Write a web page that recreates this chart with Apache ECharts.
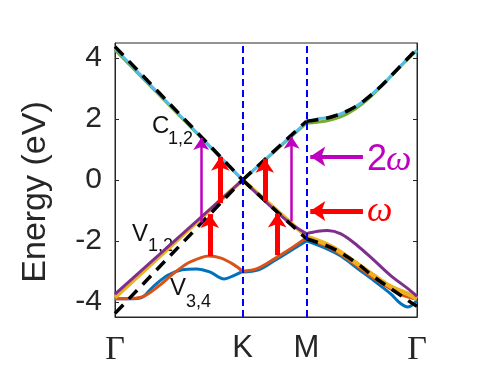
<!DOCTYPE html>
<html>
<head>
<meta charset="utf-8">
<script src="https://cdn.jsdelivr.net/npm/echarts@6/dist/echarts.min.js"></script>
<style>
  html, body { margin: 0; padding: 0; background: #fff; }
  #chart { width: 500px; height: 376px; }
</style>
</head>
<body>
<div id="chart"></div>
<script>
// high-symmetry points along the k-path (units of pi/a)
var kTicks = [0, 4 / 3, 2, 2 + 1.1547];
var kTickLabels = ['Γ', 'K', 'M', 'Γ'];
var energyTicks = [-4, -2, 0, 2, 4];

// bands, split per path segment: Γ-K, K-M, M-Γ  ([k, E in eV])
var c1GK = [[0, 4.32], [4 / 3, 0]];
var c1KM = [[4 / 3, 0], [2, 1.9]];
var c1MG = [[2, 1.9], [2.11, 2.0], [2.25, 2.06], [2.43, 2.27], [2.6, 2.6], [2.78, 3.09], [2.95, 3.64], [3.09, 4.08], [3.1547, 4.26]];
var c2GK = [[0, 4.27], [4 / 3, 0]];
var c2KM = [[4 / 3, 0], [2, 1.87]];
var c2MG = [[2, 1.86], [2.11, 1.9], [2.25, 1.97], [2.43, 2.18], [2.6, 2.54], [2.78, 3.07], [2.95, 3.63], [3.09, 4.07], [3.1547, 4.25]];

var v1GK = [[0, -3.75], [4 / 3, 0]];
var v1KM = [[4 / 3, 0], [1.8, -1.35], [2, -1.76]];
var v1MG = [[2, -1.76], [2.12, -1.68], [2.22, -1.66], [2.36, -1.77], [2.53, -2.15], [2.71, -2.65], [2.88, -3.14], [3.06, -3.57], [3.1547, -3.82]];
var v2GK = [[0, -3.86], [4 / 3, 0]];
var v2KM = [[4 / 3, 0], [2, -1.86]];
var v2MG = [[2, -1.86], [2.22, -2.12], [2.36, -2.38], [2.53, -2.75], [2.71, -3.15], [2.88, -3.5], [3.06, -3.74], [3.1547, -3.9]];
var v3GK = [[0, -3.9], [0.15, -3.89], [0.3, -3.82], [0.45, -3.5], [0.6, -3.1], [0.75, -2.75], [0.9, -2.55], [0.98, -2.5], [1.1, -2.56], [1.24, -2.78], [4 / 3, -3.0]];
var v3KM = [[4 / 3, -3.0], [1.49, -2.9], [1.66, -2.6], [1.83, -2.27], [2, -1.9]];
var v3MG = [[2, -1.9], [2.22, -2.2], [2.36, -2.45], [2.53, -2.83], [2.71, -3.24], [2.88, -3.58], [3.0, -3.78], [3.1547, -3.92]];
var v4GK = [[0, -3.9], [0.15, -3.9], [0.27, -3.87], [0.4, -3.5], [0.55, -3.13], [0.7, -2.95], [0.85, -2.92], [0.99, -3.02], [1.14, -3.25], [1.24, -3.14], [4 / 3, -3.0]];
var v4KM = [[4 / 3, -3.02], [1.5, -2.95], [1.66, -2.66], [1.83, -2.33], [2, -2.0]];
var v4MG = [[2, -2.0], [2.22, -2.27], [2.36, -2.5], [2.53, -2.9], [2.71, -3.32], [2.88, -3.74], [2.98, -4.05], [3.06, -4.17], [3.1547, -3.96]];

// simple model (black dashed)
var dashCGK = [[0, 4.38], [4 / 3, 0]];
var dashCKM = [[4 / 3, 0], [2, 1.93]];
var dashCMG = [[2, 1.93], [2.11, 1.98], [2.25, 2.06], [2.43, 2.27], [2.6, 2.6], [2.78, 3.09], [2.95, 3.64], [3.09, 4.1], [3.1547, 4.3]];
var dashVGK = [[0, -4.38], [4 / 3, 0]];
var dashVKM = [[4 / 3, 0], [2, -1.93]];
var dashVMG = [[2, -1.93], [2.285, -2.26], [2.533, -2.75], [2.704, -3.18], [2.952, -3.72], [3.057, -3.95], [3.1547, -4.15]];

// optical transitions: [k, E from, E to]
var arrows2w = [[0.9, -1.4, 1.38], [1.845, -1.36, 1.42]];
var arrowsW = [[0.99, -2.5, -1.12], [1.1, -0.76, 0.76], [1.565, -0.7, 0.7], [1.694, -2.47, -1.1]];
// legend arrows: [k tail, k head, E]
var key2w = [2.59, 2.04, 0.77];
var keyW = [2.59, 2.04, -1.02];

var cBlue = '#4DBEEE', cGreen = '#77AC30', cPurple = '#7E2F8E',
    cYellow = '#EDB120', cOrange = '#D95319', cDark = '#0072BD',
    cMag = '#C000C0', cRed = '#FF0000';

function band(data, color, width, dashed) {
    return {
        type: 'line',
        data: data,
        symbol: 'none',
        smooth: data.length > 2 ? 0.35 : false,
        lineStyle: {color: color, width: width, type: dashed ? [12, 8] : 'solid'},
        silent: true
    };
}

function arrow(x0, y0, x1, y1, color, width, size) {
    return [
        {coord: [x0, y0]},
        {coord: [x1, y1], lineStyle: {color: color, width: width, type: 'solid'}, symbolSize: size}
    ];
}

var arrowData = [];
arrows2w.forEach(function (a) { arrowData.push(arrow(a[0], a[1], a[0], a[2], cMag, 2.5, 12)); });
arrowsW.forEach(function (a) { arrowData.push(arrow(a[0], a[1], a[0], a[2], cRed, 5, 14)); });
arrowData.push(arrow(key2w[0], key2w[2], key2w[1], key2w[2], cMag, 4, 15));
arrowData.push(arrow(keyW[0], keyW[2], keyW[1], keyW[2], cRed, 5, 15));

var chart = echarts.init(document.getElementById('chart'));

var series = [
    band(v4GK, cDark, 3), band(v4KM, cDark, 3), band(v4MG, cDark, 3),
    band(v3GK, cOrange, 3), band(v3KM, cOrange, 3), band(v3MG, cOrange, 3),
    band(v2GK, cYellow, 4), band(v2KM, cYellow, 4), band(v2MG, cYellow, 4.5),
    band(v1GK, cPurple, 3), band(v1KM, cPurple, 3), band(v1MG, cPurple, 3),
    band(c2GK, cGreen, 3), band(c2KM, cGreen, 3), band(c2MG, cGreen, 3),
    band(c1GK, cBlue, 3), band(c1KM, cBlue, 3), band(c1MG, cBlue, 3),
    band(dashCGK, '#000', 3.5, true), band(dashCKM, '#000', 3.5, true), band(dashCMG, '#000', 3.5, true),
    band(dashVGK, '#000', 3.5, true), band(dashVKM, '#000', 3.5, true), band(dashVMG, '#000', 3.5, true),
    {
        type: 'line',
        data: [],
        markLine: {
            silent: true,
            symbol: 'none',
            label: {show: false},
            lineStyle: {color: '#0000FF', width: 2, type: [7, 4]},
            data: [{xAxis: kTicks[1]}, {xAxis: kTicks[2]}]
        }
    },
    {
        type: 'line',
        data: [],
        markLine: {
            silent: true,
            symbol: ['none', 'arrow'],
            label: {show: false},
            lineStyle: {type: 'solid'},
            data: arrowData
        }
    }
];

function nearestTick(v) {
    var best = 0;
    for (var i = 1; i < kTicks.length; i++) {
        if (Math.abs(kTicks[i] - v) < Math.abs(kTicks[best] - v)) best = i;
    }
    return best;
}

var option = {
    animation: false,
    backgroundColor: '#fff',
    grid: {left: 115, right: 83, top: 43, bottom: 59, show: true, borderColor: '#262626', borderWidth: 1},
    xAxis: {
        type: 'value',
        min: 0,
        max: kTicks[3],
        axisLine: {show: true, onZero: false, lineStyle: {color: '#262626'}},
        axisTick: {show: false},
        splitLine: {show: false},
        axisLabel: {
            customValues: kTicks,
            margin: 16,
            color: '#262626',
            formatter: function (v) {
                var s = kTickLabels[nearestTick(v)];
                return s === 'Γ' ? '{g|' + s + '}' : '{s|' + s + '}';
            },
            rich: {
                g: {fontFamily: 'Liberation Serif', fontSize: 34, color: '#262626'},
                s: {fontFamily: 'Liberation Sans', fontSize: 31, color: '#262626'}
            }
        }
    },
    yAxis: [
        {
            type: 'value',
            min: -4.5,
            max: 4.5,
            axisLine: {show: true, lineStyle: {color: '#262626'}},
            axisTick: {customValues: energyTicks, inside: true, length: 4, lineStyle: {color: '#262626'}},
            axisLabel: {customValues: energyTicks, fontSize: 30, color: '#262626', fontFamily: 'Liberation Sans', margin: 13},
            splitLine: {show: false}
        },
        {
            type: 'value',
            min: -4.5,
            max: 4.5,
            position: 'right',
            axisLine: {show: true, lineStyle: {color: '#262626'}},
            axisTick: {customValues: energyTicks, inside: true, length: 4, lineStyle: {color: '#262626'}},
            axisLabel: {show: false},
            splitLine: {show: false}
        }
    ],
    graphic: [
        {type: 'text', x: 36, y: 192, rotation: Math.PI / 2, style: {text: 'Energy (eV)', fontSize: 34, fontFamily: 'Liberation Sans', fill: '#262626', align: 'center', verticalAlign: 'middle'}},
        {type: 'text', x: 152, y: 126, style: {text: 'C', fontSize: 24, fontFamily: 'Liberation Sans', fill: '#111', align: 'left', verticalAlign: 'middle'}},
        {type: 'text', x: 168, y: 139, style: {text: '1,2', fontSize: 18, fontFamily: 'Liberation Sans', fill: '#111', align: 'left', verticalAlign: 'middle'}},
        {type: 'text', x: 132, y: 234, style: {text: 'V', fontSize: 24, fontFamily: 'Liberation Sans', fill: '#111', align: 'left', verticalAlign: 'middle'}},
        {type: 'text', x: 148, y: 246, style: {text: '1,2', fontSize: 18, fontFamily: 'Liberation Sans', fill: '#111', align: 'left', verticalAlign: 'middle'}},
        {type: 'text', x: 170, y: 288, style: {text: 'V', fontSize: 24, fontFamily: 'Liberation Sans', fill: '#111', align: 'left', verticalAlign: 'middle'}},
        {type: 'text', x: 186, y: 302, style: {text: '3,4', fontSize: 18, fontFamily: 'Liberation Sans', fill: '#111', align: 'left', verticalAlign: 'middle'}},
        {type: 'text', x: 367, y: 160, style: {text: '2', fontSize: 36, fontFamily: 'Liberation Sans', fill: cMag, align: 'left', verticalAlign: 'middle'}},
        {type: 'text', x: 386, y: 161, style: {text: 'ω', fontSize: 36, fontFamily: 'Liberation Serif', fontStyle: 'italic', fill: cMag, align: 'left', verticalAlign: 'middle'}},
        {type: 'text', x: 367, y: 212, style: {text: 'ω', fontSize: 36, fontFamily: 'Liberation Serif', fontStyle: 'italic', fill: cRed, align: 'left', verticalAlign: 'middle'}}
    ],
    series: series
};

chart.setOption(option);
</script>
</body>
</html>
